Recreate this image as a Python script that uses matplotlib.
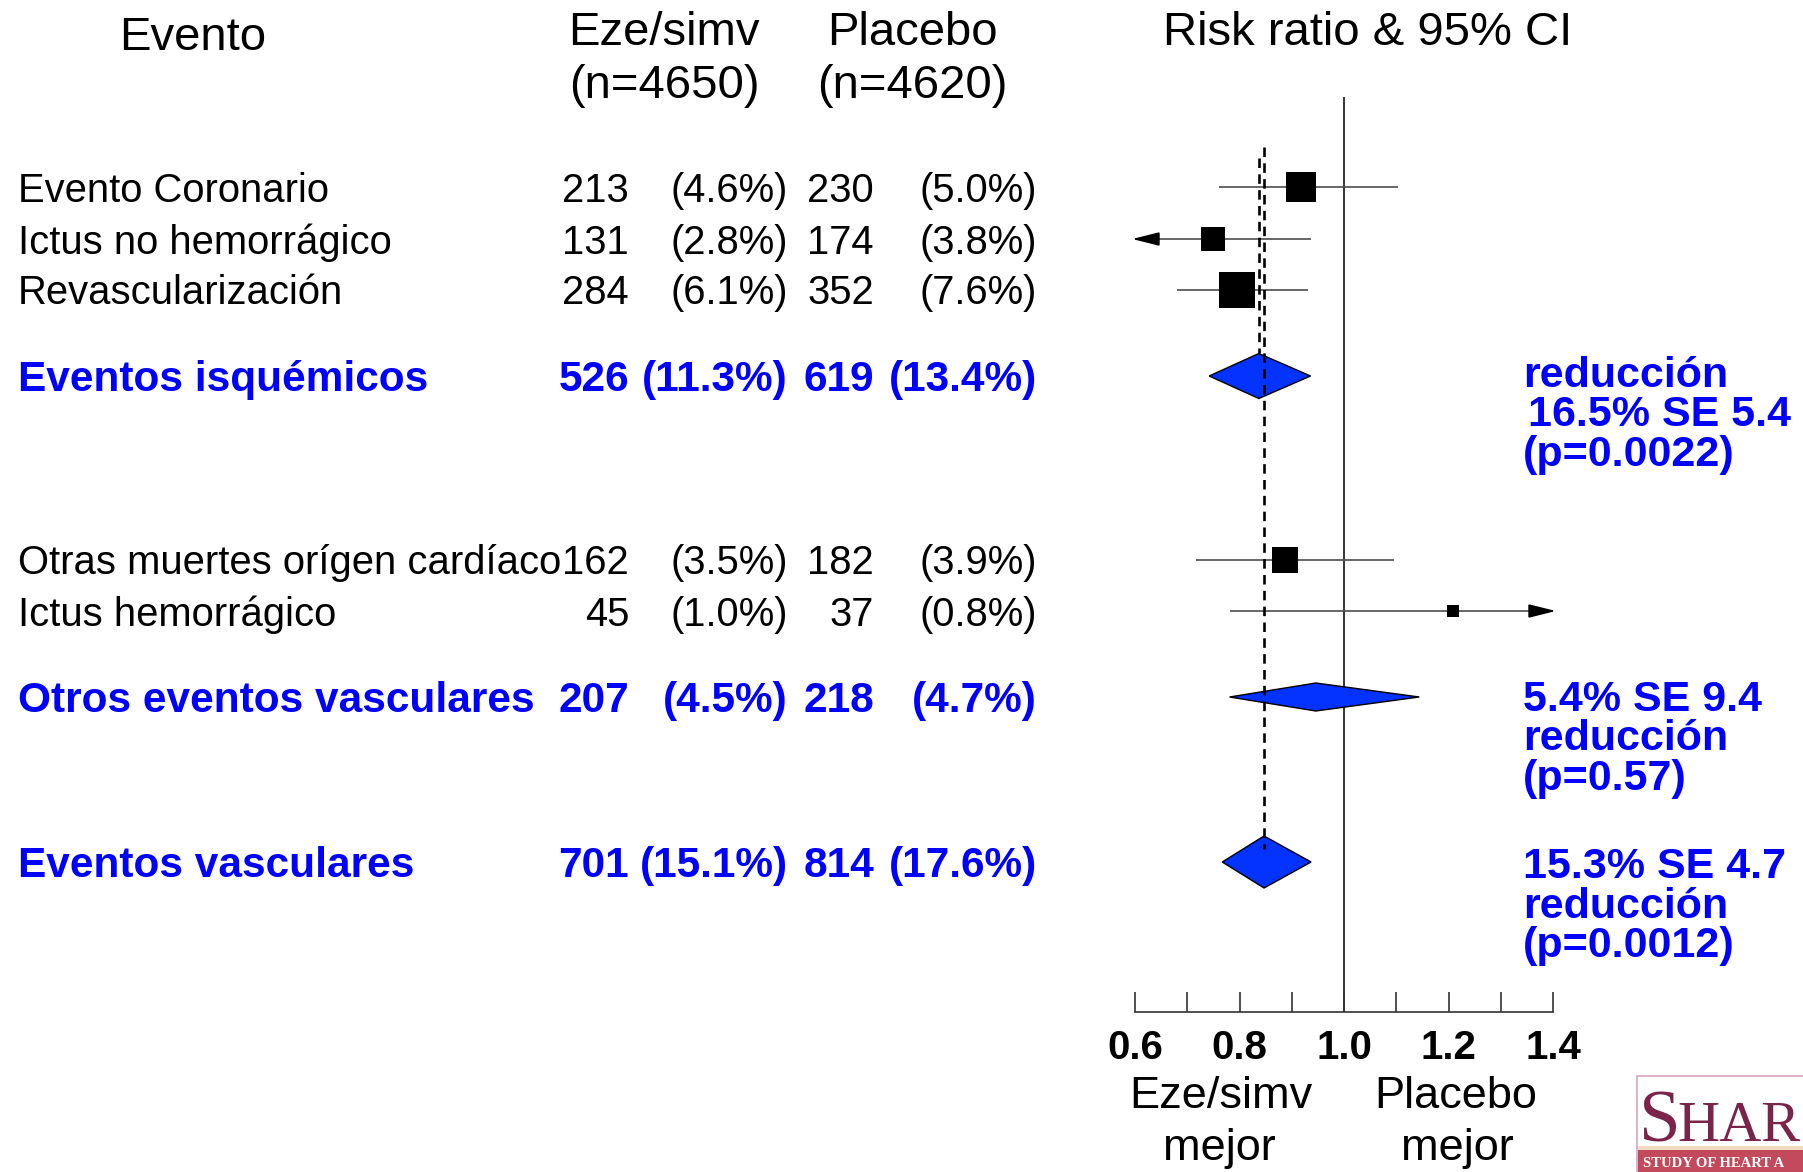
import numpy as np
import matplotlib.pyplot as plt
from matplotlib.patches import Rectangle
from matplotlib.ticker import MultipleLocator

plt.rcParams['font.family'] = ['Liberation Sans', 'DejaVu Sans']

# datos (SHARP)
eventos = ['Evento Coronario', 'Ictus no hemorrágico', 'Revascularización',
           'Eventos isquémicos', 'Otras muertes orígen cardíaco',
           'Ictus hemorrágico', 'Otros eventos vasculares', 'Eventos vasculares']
eze_n = [213, 131, 284, 526, 162, 45, 207, 701]
eze_pct = ['4.6%', '2.8%', '6.1%', '11.3%', '3.5%', '1.0%', '4.5%', '15.1%']
pla_n = [230, 174, 352, 619, 182, 37, 218, 814]
pla_pct = ['5.0%', '3.8%', '7.6%', '13.4%', '3.9%', '0.8%', '4.7%', '17.6%']
es_total = [False, False, False, True, False, False, True, True]
rr = [0.917, 0.749, 0.796, 0.837, 0.887, 1.208, 0.946, 0.847]
ci_lo = [0.760, 0.59, 0.681, 0.742, 0.717, 0.781, 0.781, 0.767]
ci_hi = [1.104, 0.936, 0.932, 0.936, 1.095, 1.86, 1.144, 0.937]
notas = {3: ['reducción', '16.5% SE 5.4', '(p=0.0022)'],
         6: ['5.4% SE 9.4', 'reducción', '(p=0.57)'],
         7: ['15.3% SE 4.7', 'reducción', '(p=0.0012)']}
ticks = [0.6, 0.8, 1.0, 1.2, 1.4]

# layout (pixeles)
W, H = 1803, 1172
fila_y = [187, 239, 290, 376, 560, 611, 697, 862]
rombo_h = {3: 22.5, 6: 14, 7: 26}
nota_y0 = {3: 387, 6: 711, 7: 878}
AZUL = '#0000ff'
AZUL_ROMBO = '#0433ff'


def fxy(x, y):
    return x / W, 1 - y / H


fig = plt.figure(figsize=(W / 100, H / 100), dpi=100)

# encabezados
for txt, x, y in [('Evento', 193, 50), ('Eze/simv', 664, 45), ('(n=4650)', 664, 98),
                  ('Placebo', 912, 45), ('(n=4620)', 912, 98),
                  ('Risk ratio & 95% CI', 1368, 45)]:
    fig.text(*fxy(x, y), txt, fontsize=34, ha='center', va='baseline')

# tabla
for i, lab in enumerate(eventos):
    if es_total[i]:
        kw = dict(fontsize=30.5, fontweight='bold', color=AZUL, va='baseline')
        yb = fila_y[i] + 15
    else:
        kw = dict(fontsize=28.8, color='black', va='baseline')
        yb = fila_y[i] + 14.5
    fig.text(*fxy(18, yb), lab, ha='left', **kw)
    fig.text(*fxy(629, yb), str(eze_n[i]), ha='right', **kw)
    fig.text(*fxy(788, yb), '(' + eze_pct[i] + ')', ha='right', **kw)
    fig.text(*fxy(874, yb), str(pla_n[i]), ha='right', **kw)
    fig.text(*fxy(1037, yb), '(' + pla_pct[i] + ')', ha='right', **kw)

# notas de reducción
for i, lineas in notas.items():
    for k, t in enumerate(lineas):
        x = 1528 if (i == 3 and k == 1) else 1523
        fig.text(*fxy(x, nota_y0[i] + 39.5 * k), t, fontsize=31,
                 fontweight='bold', color=AZUL, ha='left', va='baseline')

# forest plot
ax = fig.add_axes([1135 / W, (H - 1012) / H, (1553 - 1135) / W, 1012 / H])
ax.set_facecolor('none')
ax.set_xlim(0.6, 1.4)
ax.set_ylim(1012, 0)
for s in ['left', 'right', 'top']:
    ax.spines[s].set_visible(False)
ax.spines['bottom'].set_color('#333333')
ax.spines['bottom'].set_linewidth(1.2)
ax.set_yticks([])
ax.set_xticks(ticks)
ax.xaxis.set_minor_locator(MultipleLocator(0.1))
ax.set_xticklabels(['%.1f' % t for t in ticks], fontsize=29, fontweight='bold')
ax.tick_params(axis='x', which='both', direction='in', length=14.4, width=1.2,
               color='#333333', pad=12)

ax.vlines(1.0, 97, 1012, color='black', lw=1.1, zorder=1)

x0, x1 = ax.get_xlim()
px_x = (1553 - 1135) / (x1 - x0)
head_len = 24 / px_x
head_w = 6

for i in range(len(eventos)):
    y = fila_y[i]
    if es_total[i]:
        h = rombo_h[i]
        ax.fill([ci_lo[i], rr[i], ci_hi[i], rr[i]], [y, y - h, y, y + h],
                facecolor=AZUL_ROMBO, edgecolor='black', lw=1, zorder=3)
        continue
    a = max(ci_lo[i], x0)
    b = min(ci_hi[i], x1)
    ax.hlines(y, a, b, color='#4d4d4d', lw=1.2, zorder=2)
    if ci_lo[i] < x0:
        ax.fill([x0, x0 + head_len, x0 + head_len], [y, y - head_w, y + head_w],
                color='black', zorder=2, clip_on=False)
    if ci_hi[i] > x1:
        ax.fill([x1, x1 - head_len, x1 - head_len], [y, y - head_w, y + head_w],
                color='black', zorder=2, clip_on=False)
    ax.scatter(rr[i], y, s=(eze_n[i] + pla_n[i]) * 1.0, marker='s',
               color='black', zorder=4, linewidths=0)

# líneas punteadas del efecto global
ax.vlines(rr[3], 158, fila_y[3] - rombo_h[3], color='black', lw=1.9,
          linestyles=(0, (3.6, 2.4)), zorder=5)
ax.vlines(rr[7], 147, fila_y[7] - 13, color='black', lw=1.9,
          linestyles=(0, (3.6, 2.4)), zorder=5)

# etiquetas bajo el eje
for txt, x, y in [('Eze/simv', 1221, 1108), ('mejor', 1219, 1160),
                  ('Placebo', 1456, 1108), ('mejor', 1457, 1160)]:
    fig.text(*fxy(x, y), txt, fontsize=32.5, ha='center', va='baseline')

# logo SHARP (recortado en el borde, como en el original)
fig.add_artist(Rectangle(fxy(1637, 1172), 200 / W, 96 / H, transform=fig.transFigure,
                         facecolor='white', edgecolor='#d9a3bd', lw=1.2))
fig.add_artist(Rectangle(fxy(1638, 1172), 200 / W, 26 / H, transform=fig.transFigure,
                         facecolor='#c24a5c', edgecolor='none'))
fig.add_artist(Rectangle(fxy(1638, 1150), 200 / W, 4 / H, transform=fig.transFigure,
                         facecolor='#f2dcc0', edgecolor='none'))
fig.text(*fxy(1639, 1141), 'S', fontsize=54, family='Liberation Serif',
         color='#7b2449', ha='left', va='baseline')
fig.text(*fxy(1677, 1141), 'HAR', fontsize=42, family='Liberation Serif',
         color='#7b2449', ha='left', va='baseline')
fig.text(*fxy(1643, 1167), 'STUDY OF HEART A', fontsize=10.5,
         family='Liberation Serif', fontweight='bold', color='white',
         ha='left', va='baseline')

plt.savefig('out.png', dpi=100)
